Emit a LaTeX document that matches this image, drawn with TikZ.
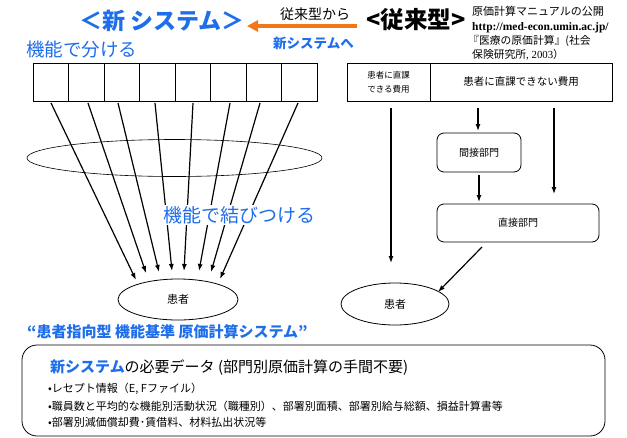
\documentclass[tikz,border=0pt]{standalone}
\usepackage{fontspec}
\setmainfont{Noto Sans CJK JP}
\newfontfamily\serifx{Liberation Serif}
\usetikzlibrary{arrows.meta,shapes.geometric}
\definecolor{nblue}{HTML}{1E6EEB}
\definecolor{norange}{HTML}{F07818}
\begin{document}
\begin{tikzpicture}[x=1pt,y=-1pt,
  cell/.style={draw, line width=0.9pt, minimum width=35.5pt, minimum height=38pt, inner sep=0pt},
  arr/.style={line width=1.2pt, -{Latex[length=7pt,width=5pt]}},
  rbox/.style={draw, rounded corners=7pt, line width=0.8pt, inner sep=0pt, font=\fontsize{10}{12}\selectfont},
  ell/.style={draw, ellipse, line width=0.8pt, inner sep=0pt},
  lbl/.style={inner sep=0pt, anchor=west},
  small/.style={lbl, text height=7.5pt, text depth=1.5pt}]
\useasboundingbox (0,0) rectangle (627,437);

% titles
\node[lbl, text=nblue, font=\bfseries\fontsize{23}{25}\selectfont] (tnew) at (79,21) {＜新 システム＞};
\node[lbl, font=\fontsize{14}{16}\selectfont] (tfrom) at (280,14) {従来型から};
\node[lbl, text=nblue, font=\bfseries\fontsize{13.5}{15}\selectfont] (tto) at (273,43) {新システムへ};
\node[lbl, font=\bfseries\fontsize{23.5}{25}\selectfont] (told) at (366,20) {<従来型>};
\coordinate (oa) at (357,26);
\coordinate (ob) at (247,26);
\draw[norange, line width=3.5pt, -{Triangle[length=11pt,width=11pt]}] (oa) -- (ob);

\node[small, font=\fontsize{11}{13}\selectfont] (ref1) at (472,12.5) {原価計算マニュアルの公開};
\node[small, font=\serifx\bfseries\fontsize{11.5}{13}\selectfont] (ref2) at (472,27) {http://med-econ.umin.ac.jp/};
\node[small, font=\fontsize{10.8}{12}\selectfont] (ref3) at (468,41) {『医療の原価計算』(社会};
\node[small, font=\fontsize{10.8}{12}\selectfont] (ref4) at (472,55) {保険研究所{\serifx, 2003}）};

\node[lbl, text=nblue, font=\fontsize{18.5}{20}\selectfont] (split) at (26,50) {機能で分ける};

% left cells
\foreach \i in {1,...,8} \node[cell] (c\i) at ({33+35.5*(\i-0.5)},82) {};

% band ellipse
\node[ell, line width=0.6pt, minimum width=295pt, minimum height=37pt] (band) at (174.5,158) {};

% patient left
\node[ell, minimum width=120pt, minimum height=41pt, font=\fontsize{11}{13}\selectfont] (p1) at (178,299.5) {患者};

% arrows left
\coordinate (s1) at (51,103);  \coordinate (e1) at (136,280);
\coordinate (s2) at (88,103);  \coordinate (e2) at (146,273);
\coordinate (s3) at (118,103); \coordinate (e3) at (159,272);
\coordinate (s4) at (155,103); \coordinate (e4) at (172,271);
\coordinate (s5) at (193,103); \coordinate (e5) at (184,271);
\coordinate (s6) at (230,103); \coordinate (e6) at (199,271);
\coordinate (s7) at (260,103); \coordinate (e7) at (211,272);
\coordinate (s8) at (298,103); \coordinate (e8) at (220,279);
\foreach \i in {1,...,8} \draw[arr] (s\i) -- (e\i);

\node[lbl, text=nblue, fill=white, inner sep=1pt, font=\fontsize{19}{21}\selectfont] (join) at (162,215) {機能で結びつける};

\node[lbl, text=nblue, font=\bfseries\fontsize{15}{17}\selectfont] (slogan) at (27,332) {“患者指向型 機能基準 原価計算システム”};

% right side
\node[cell, minimum width=83pt, align=center, font=\fontsize{8.5}{14}\selectfont] (r1) at (388.5,82) {患者に直課\\できる費用};
\node[cell, minimum width=182pt, font=\fontsize{10.5}{12}\selectfont] (r2) at (521,82) {患者に直課できない費用};
\node[rbox, minimum width=84pt, minimum height=39pt] (m1) at (479,152.5) {間接部門};
\node[rbox, minimum width=162pt, minimum height=38pt] (d1) at (518,223) {直接部門};
\node[ell, minimum width=108pt, minimum height=42pt, font=\fontsize{11}{13}\selectfont] (p2) at (395,304) {患者};

\coordinate (ra1) at (391,108); \coordinate (ra1e) at (391,263);
\coordinate (ra2) at (478,108); \coordinate (ra2e) at (478,131);
\coordinate (ra3) at (554,108); \coordinate (ra3e) at (554,194);
\coordinate (ra4) at (479,175); \coordinate (ra4e) at (479,202);
\coordinate (ra5) at (482,247); \coordinate (ra5e) at (438,292);
\draw[arr] (ra1) -- (ra1e);
\draw[arr] (ra2) -- (ra2e);
\draw[arr] (ra3) -- (ra3e);
\draw[arr] (ra4) -- (ra4e);
\draw[arr] (ra5) -- (ra5e);

% bottom box
\node[draw, line width=0.8pt, rounded corners=15pt, minimum width=583pt, minimum height=91pt, inner sep=0pt] (bb) at (313.5,390.5) {};
\node[lbl, font=\fontsize{15}{17}\selectfont] (bh) at (50,368) {{\color{nblue}\bfseries 新システム}の必要データ (部門別原価計算の手間不要)};
\node[lbl, font=\fontsize{11}{12}\selectfont] (b1) at (48,389) {•レセプト情報（E, Fファイル）};
\node[lbl, font=\fontsize{11}{12}\selectfont] (b2) at (48,406) {•職員数と平均的な機能別活動状況（職種別）、部署別面積、部署別給与総額、損益計算書等};
\node[lbl, font=\fontsize{11}{12}\selectfont] (b3) at (48,422) {•部署別減価償却費･賃借料、材料払出状況等};
\end{tikzpicture}
\end{document}
